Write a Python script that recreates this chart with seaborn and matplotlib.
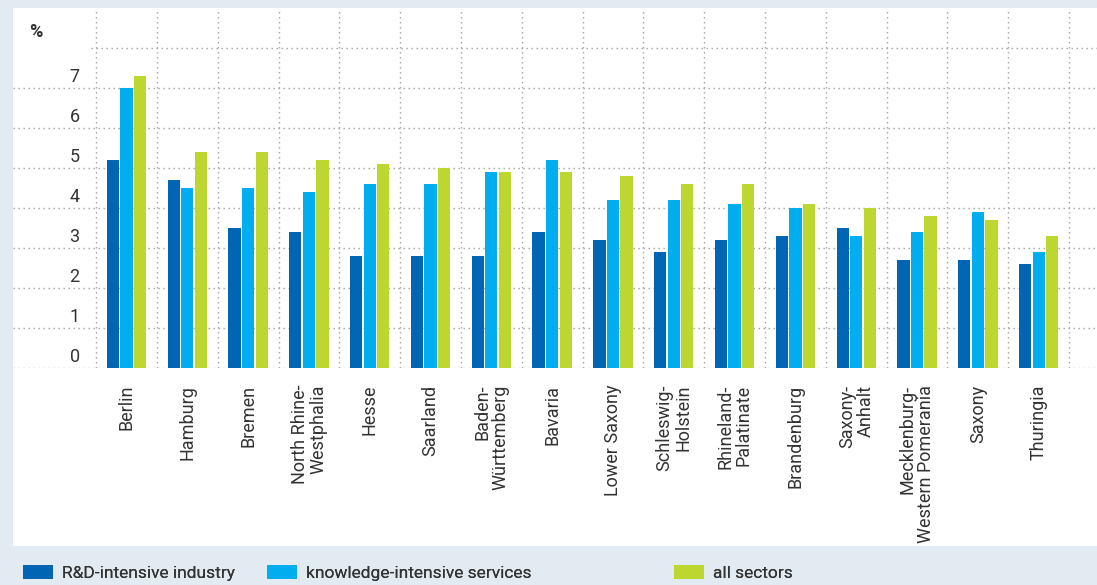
import numpy as np
import pandas as pd
import matplotlib.pyplot as plt
import seaborn as sns
from matplotlib.patches import Patch, Rectangle

# data
states = ["Berlin", "Hamburg", "Bremen", "North Rhine-\nWestphalia", "Hesse",
          "Saarland", "Baden-\nWürttemberg", "Bavaria", "Lower Saxony",
          "Schleswig-\nHolstein", "Rhineland-\nPalatinate", "Brandenburg",
          "Saxony-\nAnhalt", "Mecklenburg-\nWestern Pomerania", "Saxony",
          "Thuringia"]
rd_industry = [5.2, 4.7, 3.5, 3.4, 2.8, 2.8, 2.8, 3.4, 3.2, 2.9, 3.2, 3.3, 3.5, 2.7, 2.7, 2.6]
knowledge_services = [7.0, 4.5, 4.5, 4.4, 4.6, 4.6, 4.9, 5.2, 4.2, 4.2, 4.1, 4.0, 3.3, 3.4, 3.9, 2.9]
all_sectors = [7.3, 5.4, 5.4, 5.2, 5.1, 5.0, 4.9, 4.9, 4.8, 4.6, 4.6, 4.1, 4.0, 3.8, 3.7, 3.3]
series_names = ["R&D-intensive industry", "knowledge-intensive services", "all sectors"]
ytick_values = [0, 1, 2, 3, 4, 5, 6, 7]

palette = ["#0066b3", "#00adef", "#bed630"]
bg = "#e2ebf2"
txt = "#333333"

df = pd.DataFrame({"state": states * 3,
                   "series": np.repeat(series_names, len(states)),
                   "value": rd_industry + knowledge_services + all_sectors})

sns.set_style("white")
plt.rcParams["font.family"] = ["Roboto", "DejaVu Sans"]

W, H = 1097, 585
fig = plt.figure(figsize=(W / 100, H / 100), dpi=100, facecolor=bg)
# white panel behind everything
fig.patches.append(Rectangle((13 / W, (H - 546) / H), 1 - 13 / W, (546 - 8) / H,
                             transform=fig.transFigure, facecolor="white",
                             edgecolor="none", zorder=-5))
ax = fig.add_axes([13 / W, (H - 368) / H, 1 - 13 / W, (368 - 8) / H], zorder=2)
ax.set_facecolor("white")

sns.barplot(data=df, x="state", y="value", hue="series", palette=palette,
            width=0.67, gap=0.1, linewidth=0, saturation=1, ax=ax, zorder=3)
ax.legend_.remove()

ax.set_xlim(-1.867, 15.96)
ax.set_ylim(0, 9)
for s in ax.spines.values():
    s.set_visible(False)

# grid
grid_kw = dict(color="#a0a0a0", linewidth=1, linestyle=(0, (1, 2.6)), zorder=1)
ax.hlines(ytick_values, -1.867, 15.96, **grid_kw)
ax.hlines([8], -0.58, 15.96, **grid_kw)
ax.vlines(np.arange(-0.5, len(states)), 0, 9, **grid_kw)

# y labels
ax.set_yticks([])
for v in ytick_values:
    ax.text(-0.77, v + 0.28, str(v), ha="right", va="center", fontsize=13, color=txt)
ax.text(-1.5, 8.4, "%", ha="center", va="center", fontsize=13, color=txt,
        fontweight="bold")

ax.set_xlabel("")
ax.set_ylabel("")
ax.set_xticks(range(len(states)))
ax.set_xticklabels(states, rotation=90, ha="center", va="top",
                   multialignment="right", fontsize=13, color=txt,
                   linespacing=1.05)
ax.tick_params(axis="x", length=0, pad=12)

# legend: one entry per column, at fixed positions
legend_x = [23, 267, 674]
for name, c, x in zip(series_names, palette, legend_x):
    fig.add_artist(fig.legend([Patch(facecolor=c, edgecolor="none")], [name],
                              loc="center left",
                              bbox_to_anchor=(x / W, (H - 573) / H),
                              frameon=False, fontsize=12.5, labelcolor=txt,
                              handlelength=1.75, handleheight=0.92,
                              handletextpad=0.5, borderpad=0, borderaxespad=0))

fig.savefig("out.png", dpi=100, facecolor=bg)
